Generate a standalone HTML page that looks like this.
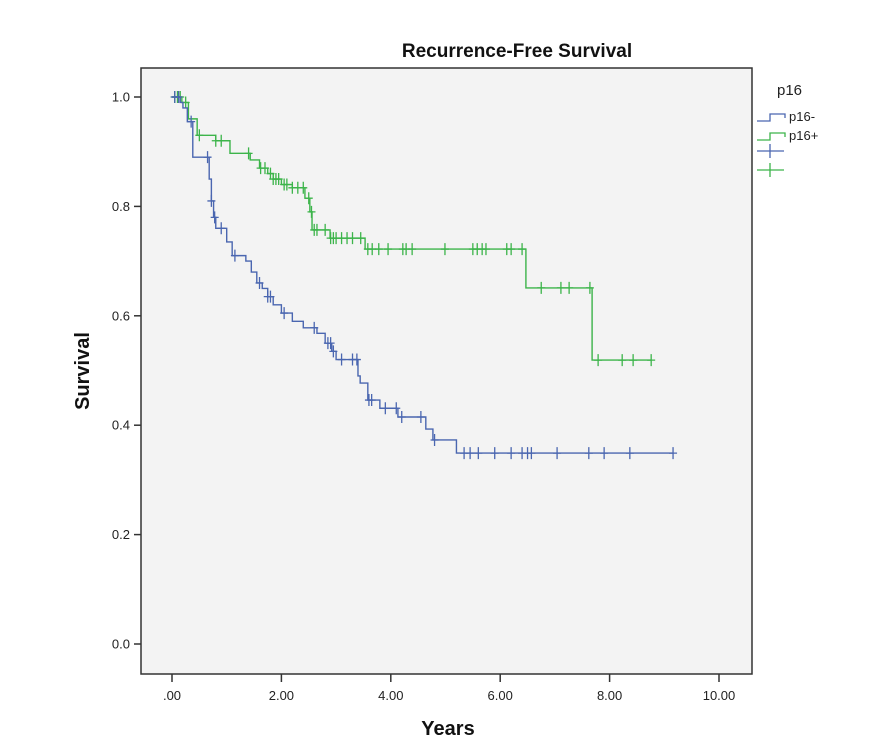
<!DOCTYPE html>
<html><head><meta charset="utf-8">
<style>
body{margin:0;background:#fff;font-family:"Liberation Sans","DejaVu Sans",sans-serif}
svg{display:block}
</style></head>
<body>
<svg id="chart" width="878" height="749" viewBox="0 0 878 749" xmlns="http://www.w3.org/2000/svg">
<rect x="141" y="68" width="611" height="606" fill="#f3f3f3" stroke="#333" stroke-width="1.5"/>
<text x="517" y="57" text-anchor="middle" font-size="19" font-weight="bold" fill="#111">Recurrence-Free Survival</text>
<text transform="translate(89,371) rotate(-90)" text-anchor="middle" font-size="20" font-weight="bold" fill="#111">Survival</text>
<text x="448" y="735" text-anchor="middle" font-size="20" font-weight="bold" fill="#111">Years</text>
<g id="axes"></g>
<g id="series"></g>
<g>
<text x="777" y="95" font-size="15" fill="#222">p16</text>
<path d="M757,121 H770 V114 H785 V118" fill="none" stroke="#4a66b0" stroke-width="1.3"/>
<text x="789" y="121" font-size="13" fill="#222">p16-</text>
<path d="M757,140 H770 V133 H785 V137" fill="none" stroke="#3cb44a" stroke-width="1.3"/>
<text x="789" y="140" font-size="13" fill="#222">p16+</text>
<path d="M757,151 H784 M770,144 V158" stroke="#4a66b0" stroke-width="1.3"/>
<path d="M757,170 H784 M770,163 V177" stroke="#3cb44a" stroke-width="1.3"/>
</g>
</svg>
<script>
const xTicks=[0,2,4,6,8,10];
const xTickLabels=[".00","2.00","4.00","6.00","8.00","10.00"];
const yTicks=[0,0.2,0.4,0.6,0.8,1.0];
const yTickLabels=["0.0","0.2","0.4","0.6","0.8","1.0"];
const negTimes=[0.15,0.2,0.28,0.38,0.68,0.72,0.76,0.8,1.0,1.1,1.35,1.45,1.55,1.65,1.75,1.85,2.0,2.2,2.4,2.65,2.8,2.92,3.0,3.4,3.44,3.58,3.8,4.13,4.64,4.77,5.2];
const negSurv=[0.99,0.98,0.955,0.89,0.85,0.81,0.78,0.76,0.735,0.71,0.70,0.68,0.66,0.65,0.635,0.62,0.605,0.59,0.578,0.568,0.55,0.535,0.52,0.49,0.477,0.446,0.431,0.415,0.393,0.373,0.349];
const negCensor=[0.05,0.12,0.35,0.65,0.72,0.78,0.9,1.15,1.6,1.75,1.8,2.05,2.6,2.85,2.9,2.95,3.1,3.3,3.38,3.6,3.65,3.9,4.1,4.2,4.55,4.8,5.34,5.45,5.6,5.9,6.2,6.4,6.5,6.57,7.04,7.62,7.9,8.37,9.16];
const posTimes=[0.18,0.3,0.46,0.8,1.06,1.43,1.6,1.75,1.85,2.0,2.2,2.43,2.52,2.56,2.89,3.53,6.47,7.68];
const posSurv=[0.99,0.96,0.93,0.92,0.897,0.885,0.87,0.86,0.85,0.84,0.834,0.815,0.79,0.757,0.742,0.722,0.651,0.519];
const posCensor=[0.05,0.1,0.15,0.25,0.5,0.8,0.9,1.4,1.62,1.7,1.8,1.85,1.9,1.95,2.05,2.1,2.2,2.3,2.4,2.5,2.55,2.6,2.65,2.8,2.9,2.95,3.0,3.1,3.2,3.3,3.45,3.58,3.66,3.78,3.95,4.22,4.28,4.39,4.99,5.5,5.58,5.67,5.74,6.12,6.2,6.4,6.75,7.11,7.26,7.64,7.79,8.23,8.43,8.76];

const NS="http://www.w3.org/2000/svg";
const X=v=>172+v*54.7;
const Y=v=>644-v*547;
function mk(tag,attrs,parent){const e=document.createElementNS(NS,tag);for(const k in attrs)e.setAttribute(k,attrs[k]);parent.appendChild(e);return e;}
const axes=document.getElementById('axes');
xTicks.forEach((t,i)=>{
  const l=mk('line',{x1:X(t),x2:X(t),y1:674,y2:682,stroke:'#333','stroke-width':1.5},axes);
  
  
  const tx=mk('text',{x:X(t),y:700,'text-anchor':'middle','font-size':13,fill:'#222'},axes);
  tx.textContent=xTickLabels[i];
  
  
});
yTicks.forEach((t,i)=>{
  const l=mk('line',{x1:134,x2:141,y1:Y(t),y2:Y(t),stroke:'#333','stroke-width':1.5},axes);
  
  
  const tx=mk('text',{x:130,y:Y(t)+4.5,'text-anchor':'end','font-size':13,fill:'#222'},axes);
  tx.textContent=yTickLabels[i];
  
  
});
const series=document.getElementById('series');
function survAt(times,surv,t){let s=1;for(let i=0;i<times.length;i++){if(times[i]<=t)s=surv[i];}return s;}
function draw(times,surv,cens,color,name){
  const last=Math.max(cens[cens.length-1],times[times.length-1]);
  let d='M'+X(0)+','+Y(1);let s=1;
  for(let i=0;i<times.length;i++){d+=' H'+X(times[i])+' V'+Y(surv[i]);s=surv[i];}
  d+=' H'+X(last);
  const p=mk('path',{d:d,fill:'none',stroke:color,'stroke-width':1.4},series);
  
  
  cens.forEach(c=>{
    const yy=Y(survAt(times,surv,c));
    const m=mk('path',{d:'M'+(X(c)-4)+','+yy+' H'+(X(c)+4)+' M'+X(c)+','+(yy-6)+' V'+(yy+6),stroke:color,'stroke-width':1.3},series);
    
    
  });
}
draw(posTimes,posSurv,posCensor,'#3cb44a','p16-pos');
draw(negTimes,negSurv,negCensor,'#4a66b0','p16-neg');
</script>
</body></html>
